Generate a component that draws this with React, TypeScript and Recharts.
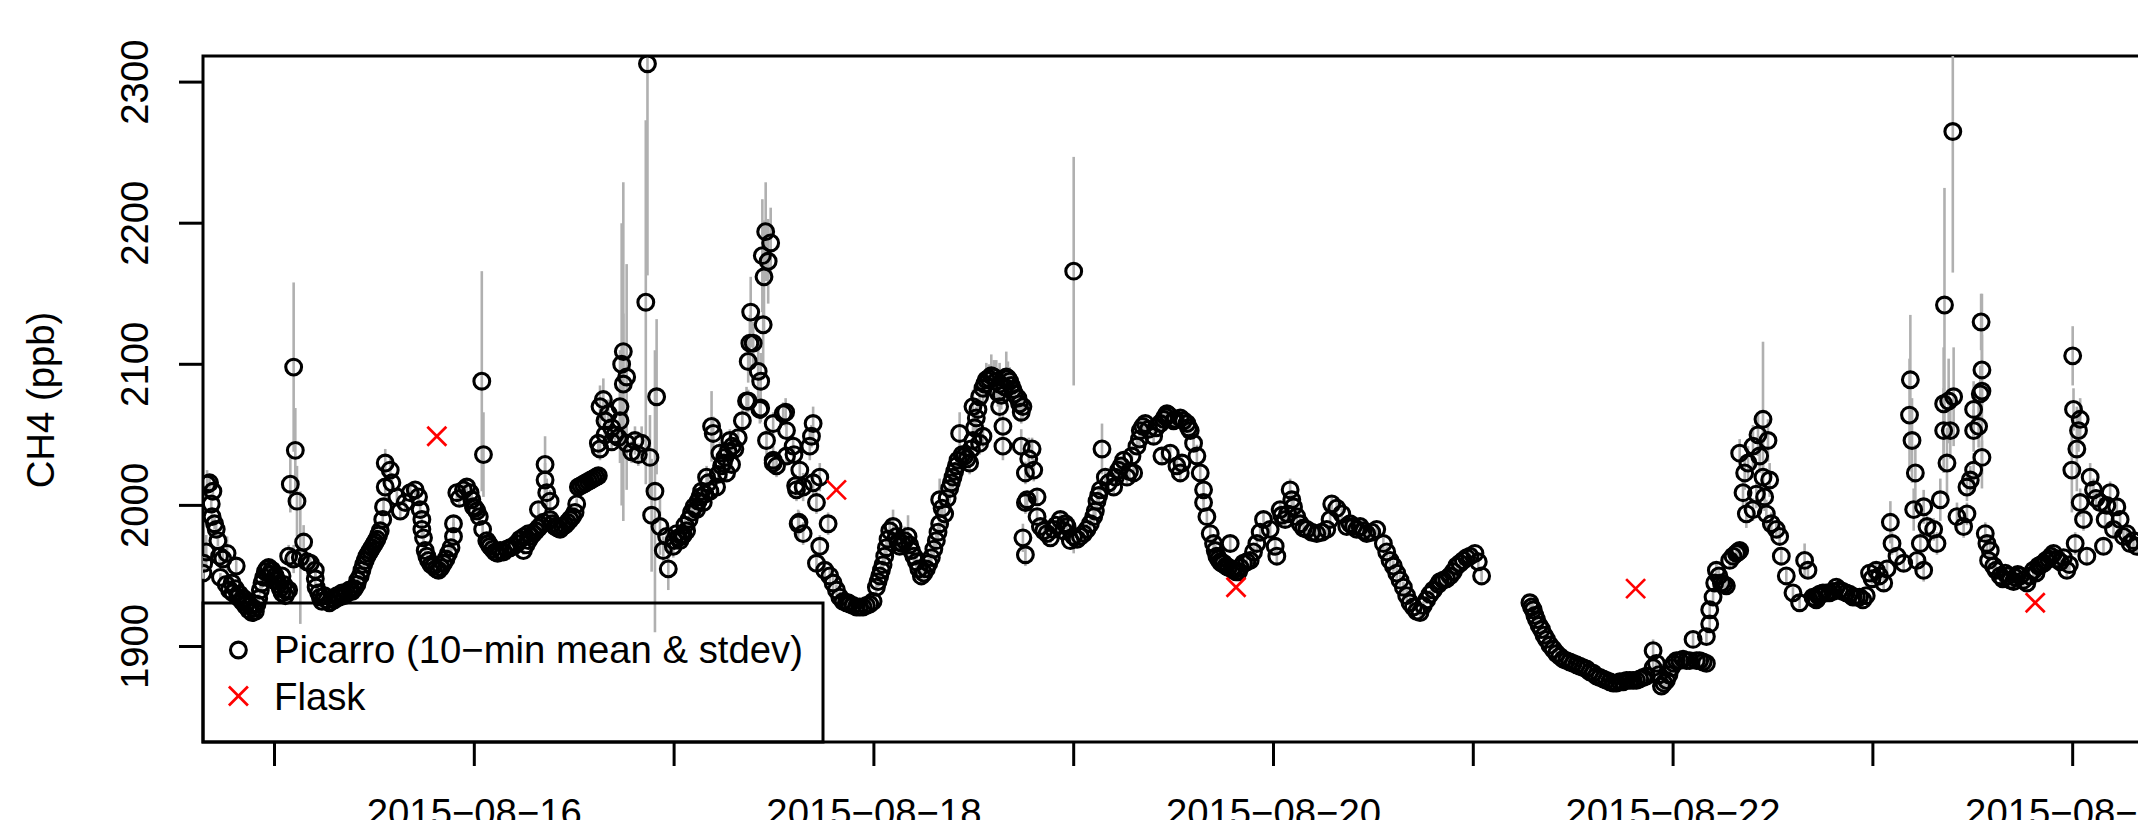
import React from 'react';
import { ScatterChart, Scatter, XAxis, YAxis, ErrorBar, ReferenceArea } from 'recharts';

// Each observation: [hours since 2015-08-14 00:00, CH4 10-min mean (ppb), 10-min stdev (ppb)]
type Obs = [number, number, number];

const PICARRO_AUG14_15: Obs[] = [
  [15.4, 1952, 4], [15.5, 1959, 5], [15.8, 1967, 12], [15.9, 2015, 10], [16.2, 2016, 6], [16.6, 2010, 5],
  [16.4, 2001, 5], [16.5, 1992, 6], [16.8, 1987, 4], [17.0, 1983, 5], [17.2, 1975, 4], [17.4, 1964, 4],
  [17.5, 1949, 3], [17.8, 1962, 5], [18.2, 1944, 4], [18.3, 1966, 12], [18.6, 1940, 4], [18.9, 1945, 4],
  [19.0, 1938, 3], [19.3, 1941, 4], [19.4, 1957, 5], [19.6, 1935, 3], [19.8, 1937, 3], [20.1, 1932, 3],
  [20.3, 1934, 3], [20.5, 1929, 3], [20.7, 1931, 3], [20.9, 1926, 3], [21.1, 1929, 3], [21.3, 1924, 3],
  [21.5, 1927, 3], [21.7, 1925, 3], [21.9, 1930, 3], [22.1, 1934, 3], [22.3, 1940, 3], [22.5, 1945, 4],
  [22.7, 1949, 4], [22.9, 1953, 4], [23.1, 1955, 4], [23.3, 1956, 4], [23.5, 1951, 3], [23.7, 1954, 3],
  [23.9, 1947, 4], [24.1, 1950, 4], [24.3, 1947, 4], [24.5, 1944, 4], [24.7, 1941, 4], [24.9, 1938, 4],
  [24.9, 1950, 5], [25.1, 1944, 4], [25.3, 1936, 4], [25.5, 1939, 4], [25.7, 1964, 8], [25.7, 1940, 5],
  [25.9, 2015, 20], [26.3, 2098, 60], [26.3, 1962, 10], [26.5, 2039, 30], [26.7, 2003, 25], [27.1, 1963, 47],
  [27.5, 1974, 12], [27.9, 1960, 6], [28.3, 1959, 5], [28.9, 1954, 4], [28.9, 1948, 4], [29.0, 1942, 3],
  [29.3, 1938, 3], [29.5, 1935, 3], [29.7, 1932, 3], [30.0, 1936, 3], [30.3, 1933, 3], [30.6, 1931, 3],
  [30.9, 1934, 3], [31.2, 1933, 3], [31.5, 1936, 3], [31.8, 1935, 3], [32.1, 1938, 3], [32.4, 1936, 3],
  [32.7, 1938, 3], [33.0, 1940, 3], [33.3, 1939, 3], [33.6, 1941, 3], [33.9, 1944, 3], [34.0, 1947, 3],
  [34.3, 1950, 4], [34.5, 1954, 4], [34.7, 1958, 4], [34.9, 1961, 4], [35.1, 1964, 4], [35.3, 1966, 4],
  [35.5, 1968, 4], [35.7, 1970, 4], [35.9, 1972, 4], [36.1, 1974, 4], [36.3, 1976, 4], [36.5, 1979, 4],
  [36.7, 1982, 5], [37.0, 1990, 6], [37.1, 1999, 6], [37.3, 2013, 8], [37.3, 2030, 10], [37.9, 2025, 8],
  [38.1, 2016, 6], [38.7, 2006, 5], [39.1, 1996, 5], [39.7, 2002, 5], [40.3, 2009, 5], [40.9, 2011, 4],
  [41.3, 2006, 4], [41.5, 1997, 5], [41.7, 1990, 5], [41.7, 1983, 5], [41.9, 1977, 4], [42.1, 1968, 4],
  [42.3, 1964, 4], [42.5, 1961, 4], [42.8, 1958, 4], [43.1, 1957, 4], [43.4, 1955, 4], [43.7, 1954, 4],
  [44.0, 1956, 4], [44.3, 1959, 5], [44.6, 1962, 4], [44.9, 1966, 5], [45.2, 1970, 5], [45.5, 1978, 10],
  [45.5, 1987, 6], [45.9, 2009, 5], [46.2, 2005, 5], [46.7, 2011, 6], [47.1, 2013, 5], [47.5, 2009, 5],
  [47.7, 2004, 5], [47.9, 1999, 5], [48.1, 1998, 5], [48.3, 1996, 5], [48.6, 1992, 5], [48.9, 2088, 78],
  [49.0, 1983, 5], [49.1, 2036, 30], [49.5, 1975, 4], [49.7, 1973, 4], [49.9, 1971, 4], [50.2, 1969, 3],
  [50.5, 1967, 3], [50.8, 1966, 3], [51.1, 1968, 3], [51.5, 1967, 3], [51.9, 1969, 3], [52.3, 1970, 3],
  [52.7, 1971, 3], [53.1, 1973, 3], [53.5, 1976, 3], [54.0, 1978, 3], [54.5, 1980, 3],
];

const PICARRO_AUG16_17: Obs[] = [
  [53.9, 1968, 3], [54.2, 1972, 3], [54.5, 1975, 3], [54.8, 1978, 3], [55.1, 1980, 4], [55.4, 1982, 4],
  [55.7, 1984, 4], [55.7, 1997, 6], [56.0, 1986, 4], [56.3, 1988, 5], [56.5, 2018, 12], [56.5, 2029, 20],
  [56.7, 2009, 10], [57.1, 2003, 8], [57.1, 1990, 5], [57.4, 1987, 4], [57.7, 1985, 4], [58.0, 1984, 3],
  [58.3, 1983, 3], [58.6, 1985, 3], [58.9, 1986, 3], [59.2, 1988, 3], [59.5, 1990, 3], [59.8, 1992, 3],
  [60.1, 1995, 4], [60.3, 2001, 4], [60.5, 2013, 4], [60.8, 2014, 3], [61.1, 2015, 3], [61.4, 2016, 3],
  [61.7, 2017, 3], [62.0, 2018, 3], [62.3, 2019, 3], [62.6, 2020, 3], [62.9, 2021, 4], [62.9, 2044, 10],
  [63.1, 2070, 15], [63.1, 2040, 8], [63.5, 2075, 15], [63.7, 2060, 12], [63.7, 2050, 8], [64.1, 2065, 10],
  [64.5, 2055, 8], [64.5, 2045, 6], [64.9, 2050, 6], [65.3, 2048, 6], [65.5, 2060, 20], [65.5, 2070, 40],
  [65.7, 2100, 100], [65.9, 2109, 120], [65.9, 2086, 50], [66.3, 2091, 80], [66.3, 2044, 10], [66.9, 2038, 8],
  [67.3, 2046, 10], [67.7, 2036, 8], [68.1, 2044, 12], [68.6, 2144, 129], [68.8, 2313, 150], [69.1, 2034, 30],
  [69.3, 1993, 40], [69.7, 2010, 100], [69.9, 2077, 55], [70.3, 1985, 20], [70.7, 1968, 10], [71.1, 1978, 10],
  [71.3, 1955, 15], [71.9, 1971, 8], [72.0, 1975, 5], [72.3, 1980, 6], [72.5, 1977, 5], [72.7, 1975, 5],
  [72.9, 1978, 5], [73.1, 1979, 5], [73.3, 1986, 5], [73.5, 1982, 4], [73.8, 1990, 5], [74.1, 1995, 5],
  [74.4, 1999, 5], [74.7, 1997, 5], [74.9, 2003, 5], [75.1, 2006, 6], [75.3, 2010, 6], [75.5, 2002, 6],
  [75.7, 2008, 6], [75.9, 2020, 8], [76.1, 2016, 6], [76.3, 2010, 6], [76.5, 2056, 25], [76.7, 2051, 12],
  [77.1, 2013, 6], [77.3, 2022, 6], [77.5, 2037, 8], [77.7, 2028, 6], [77.9, 2030, 6], [78.1, 2034, 6],
  [78.3, 2023, 6], [78.5, 2038, 6], [78.7, 2046, 8], [78.9, 2029, 6], [79.0, 2042, 6], [79.3, 2040, 6],
  [79.7, 2048, 6], [80.2, 2060, 8], [80.7, 2074, 10], [80.9, 2102, 15], [80.9, 2074, 8], [81.1, 2115, 20],
  [81.2, 2137, 25], [81.5, 2115, 15], [82.1, 2095, 20], [82.3, 2068, 10], [82.4, 2088, 20], [82.4, 2069, 10],
  [82.6, 2177, 40], [82.7, 2128, 30], [82.8, 2162, 40], [83.0, 2194, 35], [83.1, 2046, 10], [83.3, 2173, 30],
  [83.6, 2186, 25], [83.9, 2058, 8], [83.9, 2032, 10], [83.9, 2030, 8], [84.3, 2028, 8], [85.1, 2065, 8],
  [85.4, 2066, 10], [85.5, 2053, 8], [85.5, 2035, 6], [86.3, 2042, 8], [86.4, 2036, 6], [86.6, 2014, 8],
  [86.7, 2011, 8], [86.9, 1987, 10], [87.0, 1988, 8], [87.1, 2025, 8], [87.5, 2013, 10], [87.5, 1980, 8],
  [88.3, 2042, 10], [88.5, 2049, 8], [88.7, 2058, 12], [88.7, 2016, 8], [89.1, 2002, 8], [89.1, 1959, 6],
  [89.5, 2020, 10], [89.5, 1971, 8], [90.1, 1954, 6], [90.5, 1987, 8], [90.7, 1950, 5], [91.1, 1945, 5],
  [91.5, 1940, 4], [91.9, 1935, 4], [92.3, 1932, 3], [92.9, 1931, 3],
];

const PICARRO_AUG18_19: Obs[] = [
  [92.7, 1931, 3], [93.1, 1930, 3], [93.5, 1929, 3], [93.9, 1928, 3], [94.3, 1928, 3], [94.7, 1928, 3],
  [95.1, 1929, 3], [95.5, 1930, 3], [95.9, 1932, 3], [96.3, 1942, 4], [96.5, 1946, 4], [96.7, 1950, 4],
  [96.9, 1954, 4], [97.1, 1958, 5], [97.3, 1964, 5], [97.5, 1970, 6], [97.7, 1976, 6], [97.9, 1982, 8],
  [98.3, 1985, 12], [98.7, 1978, 8], [98.9, 1974, 6], [99.1, 1971, 6], [99.4, 1973, 6], [99.7, 1975, 10],
  [100.1, 1978, 15], [100.3, 1972, 6], [100.5, 1968, 6], [100.8, 1964, 5], [101.1, 1960, 5], [101.4, 1955, 4],
  [101.7, 1950, 4], [102.0, 1952, 4], [102.3, 1955, 5], [102.6, 1959, 5], [102.9, 1963, 5], [103.2, 1969, 5],
  [103.5, 1975, 6], [103.7, 1981, 6], [103.9, 1987, 6], [103.9, 2004, 15], [104.2, 1998, 6], [104.5, 1994, 8],
  [104.8, 2005, 6], [105.1, 2012, 10], [105.3, 2016, 6], [105.5, 2020, 8], [105.7, 2024, 6], [105.9, 2028, 8],
  [106.1, 2032, 6], [106.3, 2051, 15], [106.6, 2036, 6], [106.9, 2035, 8], [107.2, 2033, 6], [107.5, 2030, 8],
  [107.7, 2040, 6], [107.9, 2046, 10], [107.9, 2070, 12], [108.1, 2055, 8], [108.3, 2062, 8], [108.5, 2068, 8],
  [108.7, 2077, 10], [108.7, 2044, 8], [109.1, 2049, 8], [109.1, 2083, 10], [109.3, 2086, 10], [109.5, 2089, 12],
  [109.8, 2090, 10], [110.1, 2092, 15], [110.4, 2091, 12], [110.7, 2088, 15], [110.9, 2080, 10], [111.1, 2070, 10],
  [111.1, 2086, 15], [111.3, 2078, 10], [111.5, 2056, 8], [111.5, 2042, 10], [111.7, 2084, 10], [111.9, 2091, 18],
  [112.1, 2090, 12], [112.3, 2088, 10], [112.5, 2085, 8], [112.7, 2082, 8], [112.9, 2079, 8], [113.3, 2076, 8],
  [113.5, 2072, 8], [113.7, 2066, 8], [113.7, 2042, 12], [113.9, 2070, 8], [113.9, 1977, 10], [114.2, 2023, 8],
  [114.2, 2002, 8], [114.2, 1965, 8], [114.4, 2004, 6], [114.6, 2033, 15], [115.0, 2040, 8], [115.2, 2025, 8],
  [115.6, 2006, 6], [115.6, 1992, 6], [116.0, 1985, 5], [116.4, 1982, 4], [116.8, 1980, 4], [117.2, 1977, 4],
  [117.6, 1983, 4], [117.9, 1986, 4], [118.4, 1990, 5], [118.8, 1982, 4], [119.0, 1987, 4], [119.2, 1985, 5],
  [119.6, 1975, 4], [120.0, 1978, 12], [120.0, 2166, 81], [120.4, 1976, 4], [120.8, 1978, 4], [121.2, 1980, 4],
  [121.6, 1983, 4], [122.0, 1987, 4], [122.4, 1992, 5], [122.6, 1996, 5], [122.8, 2003, 5], [123.0, 2007, 5],
  [123.2, 2011, 6], [123.4, 2040, 18], [123.8, 2020, 6], [124.2, 2016, 5], [124.8, 2013, 5], [125.0, 2020, 5],
  [125.4, 2025, 8], [125.7, 2028, 5], [126.0, 2032, 5], [126.4, 2020, 5], [126.7, 2024, 5], [127.0, 2035, 5],
  [127.2, 2023, 5], [127.6, 2042, 6], [127.9, 2047, 6], [128.0, 2053, 6], [128.3, 2056, 6], [128.6, 2058, 6],
  [129.0, 2054, 6], [129.6, 2049, 6], [129.9, 2055, 6], [130.4, 2058, 6], [130.8, 2061, 6], [131.2, 2065, 6],
];

const PICARRO_AUG19_21: Obs[] = [
  [130.6, 2035, 6], [131.0, 2063, 6], [131.4, 2064, 6], [131.6, 2037, 6], [132.0, 2060, 6], [132.2, 2061, 6],
  [132.4, 2028, 6], [132.8, 2062, 5], [132.8, 2023, 6], [133.0, 2030, 6], [133.2, 2060, 6], [133.6, 2058, 6],
  [133.8, 2055, 6], [134.0, 2053, 6], [134.4, 2044, 6], [134.8, 2035, 8], [135.2, 2023, 8], [135.6, 2011, 8],
  [135.6, 2002, 6], [136.0, 1992, 6], [136.4, 1980, 5], [136.8, 1973, 5], [137.0, 1968, 4], [137.2, 1964, 4],
  [137.4, 1962, 4], [137.6, 1960, 4], [137.8, 1959, 4], [138.0, 1959, 4], [138.3, 1957, 4], [138.6, 1956, 4],
  [138.8, 1973, 5], [139.0, 1955, 4], [139.2, 1954, 4], [139.5, 1953, 4], [139.8, 1953, 3], [140.0, 1956, 4],
  [140.4, 1959, 4], [140.8, 1960, 4], [141.2, 1961, 4], [141.6, 1967, 4], [142.0, 1973, 5], [142.4, 1981, 5],
  [142.8, 1990, 5], [143.6, 1983, 6], [144.2, 1971, 5], [144.4, 1964, 5], [144.8, 1997, 6], [145.0, 1993, 5],
  [145.4, 1990, 5], [145.7, 1994, 5], [146.0, 2011, 8], [146.2, 2004, 6], [146.4, 1999, 6], [146.8, 1992, 5],
  [147.2, 1987, 4], [147.6, 1984, 4], [148.0, 1983, 4], [148.6, 1981, 4], [149.2, 1980, 4], [149.8, 1981, 4],
  [150.4, 1983, 4], [150.8, 1990, 5], [151.0, 2001, 6], [151.6, 1998, 5], [152.2, 1994, 4], [152.8, 1985, 4],
  [153.2, 1987, 4], [153.6, 1985, 4], [154.0, 1983, 4], [154.4, 1985, 4], [154.8, 1982, 4], [155.2, 1980, 4],
  [155.8, 1981, 4], [156.4, 1983, 4], [157.2, 1973, 4], [157.6, 1967, 4], [158.0, 1961, 4], [158.4, 1957, 4],
  [158.8, 1952, 4], [159.2, 1947, 4], [159.6, 1942, 4], [160.0, 1936, 4], [160.4, 1931, 4], [160.8, 1928, 3],
  [161.2, 1925, 3], [161.6, 1924, 3], [162.0, 1929, 3], [162.4, 1933, 3], [162.8, 1937, 3], [163.2, 1940, 3],
  [163.8, 1944, 3], [164.0, 1946, 3], [164.4, 1947, 3], [164.8, 1948, 3], [165.2, 1950, 3], [165.6, 1953, 3],
  [166.0, 1957, 3], [166.4, 1959, 3], [166.8, 1961, 3], [167.2, 1963, 4], [167.6, 1964, 4], [168.2, 1966, 4],
  [168.6, 1960, 4], [169.0, 1950, 4],
];

const PICARRO_AUG21_22: Obs[] = [
  [174.8, 1931, 4], [175.0, 1928, 4], [175.2, 1926, 4], [175.4, 1922, 4], [175.6, 1919, 4], [175.9, 1915, 4],
  [176.2, 1912, 3], [176.5, 1908, 3], [176.8, 1905, 3], [177.2, 1901, 3], [177.6, 1898, 3], [178.0, 1895, 3],
  [178.4, 1893, 3], [178.8, 1891, 3], [179.2, 1890, 3], [179.6, 1889, 3], [180.0, 1888, 3], [180.4, 1887, 3],
  [180.8, 1886, 3], [181.2, 1885, 3], [181.6, 1884, 3], [182.0, 1882, 3], [182.4, 1881, 3], [182.8, 1879, 3],
  [183.2, 1878, 3], [183.6, 1877, 3], [184.0, 1876, 3], [184.4, 1875, 3], [184.8, 1874, 3], [185.2, 1874, 3],
  [185.6, 1875, 3], [186.0, 1875, 3], [186.4, 1876, 3], [186.8, 1876, 3], [187.2, 1876, 3], [187.6, 1876, 3],
  [188.0, 1877, 3], [188.4, 1878, 3], [188.8, 1879, 4], [189.6, 1897, 8], [189.6, 1885, 4], [190.0, 1888, 5],
  [190.3, 1880, 4], [190.6, 1872, 4], [190.9, 1874, 4], [191.2, 1876, 4], [191.5, 1880, 4], [191.8, 1885, 4],
  [192.1, 1888, 4], [192.4, 1890, 4], [192.8, 1890, 4], [193.2, 1891, 4], [193.6, 1890, 4], [194.0, 1890, 4],
  [194.4, 1905, 5], [194.8, 1890, 4], [195.2, 1890, 4], [195.6, 1889, 4], [196.0, 1888, 4], [196.0, 1907, 6],
  [196.4, 1916, 6], [196.4, 1926, 6], [196.8, 1935, 6], [197.0, 1945, 6], [197.2, 1954, 6], [197.5, 1950, 5],
  [197.8, 1945, 5], [198.1, 1944, 5], [198.4, 1943, 5], [198.8, 1961, 5], [199.2, 1964, 5], [199.6, 1966, 5],
  [199.8, 1967, 5], [200.0, 1968, 5], [200.0, 2037, 10], [200.4, 2009, 10], [200.6, 2023, 12], [200.8, 1994, 10],
  [201.0, 2030, 12], [201.6, 2042, 15], [201.6, 1997, 8], [202.0, 2008, 10], [202.2, 2050, 15], [202.4, 2035, 12],
  [202.8, 2061, 55], [202.8, 2020, 10], [203.0, 2006, 10], [203.2, 1994, 10], [203.4, 2046, 15], [203.6, 2018, 12],
  [203.8, 1987, 8], [204.4, 1983, 6], [204.8, 1978, 6], [205.0, 1964, 6], [205.6, 1950, 5], [206.4, 1938, 4],
  [207.2, 1931, 4],
];

const PICARRO_AUG23_24: Obs[] = [
  [207.8, 1961, 12], [208.2, 1954, 6], [208.8, 1935, 3], [209.0, 1934, 3], [209.2, 1933, 3], [209.4, 1936, 3],
  [209.6, 1937, 3], [209.8, 1937, 3], [210.0, 1938, 3], [210.4, 1938, 3], [210.8, 1938, 3], [211.2, 1939, 3],
  [211.6, 1942, 3], [212.0, 1940, 3], [212.4, 1939, 3], [212.8, 1938, 3], [213.2, 1937, 3], [213.6, 1935, 3],
  [214.0, 1935, 3], [214.4, 1935, 3], [214.8, 1933, 3], [215.2, 1936, 3], [215.6, 1952, 5], [215.9, 1948, 4],
  [216.4, 1954, 5], [216.8, 1950, 4], [217.3, 1945, 5], [217.7, 1955, 5], [218.1, 1988, 15], [218.3, 1973, 8],
  [218.9, 1964, 6], [219.7, 1959, 5], [220.4, 2064, 40], [220.5, 2089, 46], [220.7, 2046, 30], [220.9, 1997, 15],
  [221.1, 2023, 20], [221.3, 1961, 8], [221.7, 1973, 8], [222.1, 1999, 12], [222.1, 1954, 8], [222.5, 1985, 8],
  [223.3, 1983, 8], [223.7, 1973, 8], [224.1, 2004, 15], [224.5, 2072, 40], [224.5, 2053, 30], [224.6, 2142, 83],
  [224.9, 2030, 25], [225.1, 2074, 30], [225.3, 2053, 20], [225.6, 2265, 100], [225.7, 2077, 35], [226.1, 1992, 10],
  [226.9, 1985, 8], [227.3, 1994, 8], [227.3, 2013, 10], [227.7, 2018, 10], [228.1, 2025, 12], [228.1, 2068, 20],
  [228.1, 2053, 15], [228.7, 2056, 15], [228.9, 2079, 20], [229.0, 2130, 20], [229.1, 2096, 25], [229.1, 2034, 12],
  [229.1, 2081, 69], [229.5, 1980, 8], [229.7, 1973, 6], [229.9, 1961, 6], [230.1, 1968, 6], [230.5, 1957, 5],
  [230.8, 1954, 5], [231.3, 1950, 5], [231.6, 1948, 4], [231.9, 1952, 4], [232.2, 1950, 4], [232.5, 1947, 4],
  [232.9, 1946, 4], [233.1, 1949, 4], [233.4, 1951, 4], [233.7, 1950, 4], [234.1, 1947, 4], [234.5, 1945, 4],
  [234.8, 1950, 4], [235.3, 1954, 4], [235.6, 1952, 4], [235.9, 1957, 4], [236.2, 1958, 4], [236.5, 1959, 5],
  [236.8, 1961, 5], [237.1, 1962, 5], [237.4, 1964, 5], [237.7, 1966, 5], [238.1, 1962, 5], [238.5, 1960, 5],
  [238.9, 1963, 5], [239.3, 1954, 5], [239.6, 1958, 5], [239.9, 2025, 30], [240.0, 2106, 21], [240.1, 2068, 15],
  [240.3, 1973, 8], [240.5, 2040, 30], [240.7, 2053, 15], [240.9, 2061, 15], [240.9, 2002, 10], [241.3, 1990, 8],
  [241.7, 1964, 6], [242.1, 2020, 10], [242.5, 2011, 8], [242.8, 2005, 6], [243.3, 2002, 8], [243.7, 1971, 6],
  [243.9, 1990, 6], [244.1, 2000, 6], [244.5, 2009, 8], [244.9, 1983, 6], [245.3, 1999, 6], [245.7, 1990, 6],
  [246.1, 1978, 5], [246.5, 1980, 5], [246.9, 1973, 5], [247.3, 1975, 5], [247.7, 1971, 5],
];

// Flask samples (hours since 2015-08-14 00:00, CH4 ppb)
const FLASK_HOURS = [43.5, 91.5, 139.5, 187.5, 235.5];
const FLASK_CH4 = [2049, 2011, 1942, 1941, 1931];

// Daily ticks (midnight), labels every other day
const DAY_TICKS = [24, 48, 72, 96, 120, 144, 168, 192, 216, 240];
const DAY_TICK_LABELS = ['', '2015−08−16', '', '2015−08−18', '', '2015−08−20', '', '2015−08−22', '', '2015−08−24'];
const CH4_TICKS = [1900, 2000, 2100, 2200, 2300];

const X_DOMAIN: [number, number] = [15.41, 251.93];
const Y_DOMAIN: [number, number] = [1832.3, 2318.5];

const FONT = '"Liberation Sans", Arial, Helvetica, sans-serif';
const FONT_SIZE = 38.3;
const LINE_W = 3;
const RING_R = 7.9;
const RING_W = 3.1;

const picarro = [
  ...PICARRO_AUG14_15,
  ...PICARRO_AUG16_17,
  ...PICARRO_AUG18_19,
  ...PICARRO_AUG19_21,
  ...PICARRO_AUG21_22,
  ...PICARRO_AUG23_24,
].map(([h, ch4, sd]) => ({ h, ch4, sd }));

const flask = FLASK_HOURS.map((h, i) => ({ h, ch4: FLASK_CH4[i] }));

// stdev whiskers are cut at the plot frame
const clippedStdev = (d: { ch4: number; sd: number }) => [
  Math.min(d.sd, d.ch4 - Y_DOMAIN[0]),
  Math.min(d.sd, Y_DOMAIN[1] - d.ch4),
];

const Ring = (p: any) => (
  <circle cx={p.cx} cy={p.cy} r={RING_R} fill="none" stroke="#000" strokeWidth={RING_W} />
);

const Cross = ({ cx, cy }: { cx: number; cy: number }) => {
  const s = 9.5;
  return (
    <g stroke="#ff0000" strokeWidth={2.7}>
      <line x1={cx - s} y1={cy - s} x2={cx + s} y2={cy + s} />
      <line x1={cx - s} y1={cy + s} x2={cx + s} y2={cy - s} />
    </g>
  );
};

const FlaskShape = (p: any) => <Cross cx={p.cx} cy={p.cy} />;

const TimeTick = (props: any) => {
  const { x, payload } = props;
  const label = DAY_TICK_LABELS[DAY_TICKS.indexOf(payload.value)];
  if (!label) return <g />;
  return (
    <text x={x} y={825.5} textAnchor="middle" fontSize={FONT_SIZE} fontFamily={FONT} fill="#000">
      {label}
    </text>
  );
};

const Ch4Tick = (props: any) => {
  const { y, payload } = props;
  return (
    <text
      transform={`translate(148, ${y}) rotate(-90)`}
      textAnchor="middle"
      fontSize={FONT_SIZE}
      fontFamily={FONT}
      fill="#000"
    >
      {payload.value}
    </text>
  );
};

const Ch4Title = () => (
  <text
    transform="translate(53.5, 400) rotate(-90)"
    textAnchor="middle"
    fontSize={FONT_SIZE}
    fontFamily={FONT}
    fill="#000"
  >
    CH4 (ppb)
  </text>
);

const LegendBox = () => (
  <svg
    width={2138}
    height={820}
    style={{ position: 'absolute', left: 0, top: 0, pointerEvents: 'none' }}
  >
    <rect x={203} y={603} width={620} height={139} fill="none" stroke="#000" strokeWidth={LINE_W} />
    <circle cx={238.4} cy={650} r={RING_R} fill="none" stroke="#000" strokeWidth={RING_W} />
    <Cross cx={238.4} cy={696} />
    <text x={274} y={663.3} fontSize={FONT_SIZE} fontFamily={FONT} fill="#000">
      Picarro (10−min mean &amp; stdev)
    </text>
    <text x={274} y={710} fontSize={FONT_SIZE} fontFamily={FONT} fill="#000">
      Flask
    </text>
  </svg>
);

export default function App() {
  return (
    <div
      style={{
        position: 'fixed',
        left: 0,
        top: 0,
        width: 2138,
        height: 820,
        overflow: 'hidden',
        background: '#fff',
      }}
    >
      <ScatterChart width={2200} height={900} margin={{ top: 56, right: 28, bottom: 0, left: 0 }}>
        <XAxis
          type="number"
          dataKey="h"
          domain={X_DOMAIN}
          allowDataOverflow
          ticks={DAY_TICKS}
          interval={0}
          height={158}
          axisLine={false}
          tickLine={{ stroke: '#000', strokeWidth: LINE_W }}
          tickSize={24}
          tick={TimeTick}
        />
        <YAxis
          type="number"
          dataKey="ch4"
          domain={Y_DOMAIN}
          allowDataOverflow
          ticks={CH4_TICKS}
          interval={0}
          width={203}
          axisLine={false}
          tickLine={{ stroke: '#000', strokeWidth: LINE_W }}
          tickSize={24}
          tick={Ch4Tick}
          label={<Ch4Title />}
        />
        <Scatter data={picarro} shape={Ring} isAnimationActive={false}>
          <ErrorBar
            dataKey={clippedStdev}
            direction="y"
            width={0}
            stroke="#b0b0b0"
            strokeWidth={2.6}
            isAnimationActive={false}
          />
        </Scatter>
        <Scatter data={flask} shape={FlaskShape} isAnimationActive={false} />
        <ReferenceArea
          x1={X_DOMAIN[0]}
          x2={X_DOMAIN[1]}
          y1={Y_DOMAIN[0]}
          y2={Y_DOMAIN[1]}
          fill="none"
          fillOpacity={0}
          stroke="#000"
          strokeWidth={LINE_W}
          ifOverflow="visible"
        />
      </ScatterChart>
      <LegendBox />
    </div>
  );
}
